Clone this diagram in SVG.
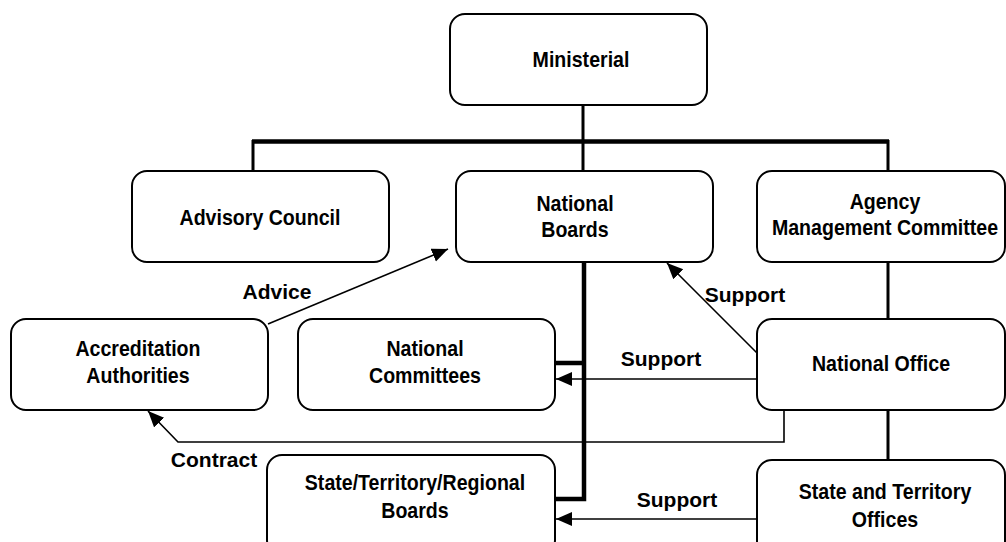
<svg xmlns="http://www.w3.org/2000/svg" width="1006" height="542" viewBox="0 0 1006 542">
<defs>
<style>
.box{fill:#fff;stroke:#000;stroke-width:2}
.t{font-family:"Liberation Sans",Arial,sans-serif;font-weight:bold;font-size:22px;fill:#000;text-anchor:middle}
.lbl{font-family:"Liberation Sans",Arial,sans-serif;font-weight:bold;font-size:21px;fill:#000;text-anchor:middle}
.tree{fill:none;stroke:#000;stroke-width:3}
.thick{fill:none;stroke:#000;stroke-width:4.5}
.arr{fill:none;stroke:#000;stroke-width:1.6;marker-end:url(#ah)}
</style>
<marker id="ah" markerUnits="userSpaceOnUse" markerWidth="18" markerHeight="16" refX="16" refY="7" orient="auto">
<path d="M0,0 L16,7 L0,14 Z" fill="#000"/>
</marker>
</defs>
<rect width="1006" height="542" fill="#fff"/>
<g id="connectors">
<path class="tree" d="M583,105 V170"/>
<path class="thick" d="M252,141.5 H889"/>
<path class="tree" d="M253,140 V171 M888,140 V171"/>
<path class="thick" d="M584,262 V499 H555 M584,363 H555"/>
<path class="tree" d="M888,262 V319 M888,410 V461"/>
<path class="arr" d="M268,324 L448,249"/>
<path class="arr" d="M757,353 L667,263"/>
<path class="arr" d="M757,379 H556"/>
<path class="arr" d="M784,410 V442 H178 L148,411"/>
<path class="arr" d="M757,519 H556"/>
</g>
<g id="n-ministerial"><rect class="box" x="450" y="14" width="257" height="91" rx="15"/><text class="t" transform="translate(581 67) scale(0.89 1)">Ministerial</text></g>
<g id="n-advisory"><rect class="box" x="132" y="171" width="257" height="91" rx="15"/><text class="t" transform="translate(260 225) scale(0.89 1)">Advisory Council</text></g>
<g id="n-boards"><rect class="box" x="456" y="171" width="257" height="91" rx="15"/><text class="t" transform="translate(575 211) scale(0.89 1)"><tspan x="0" y="0">National</tspan><tspan x="0" y="26">Boards</tspan></text></g>
<g id="n-agency"><rect class="box" x="757" y="171" width="248" height="91" rx="15"/><text class="t" transform="translate(885 209) scale(0.89 1)"><tspan x="0" y="0">Agency</tspan><tspan x="0" y="26">Management Committee</tspan></text></g>
<g id="n-accreditation"><rect class="box" x="11" y="319" width="257" height="91" rx="15"/><text class="t" transform="translate(138 356) scale(0.89 1)"><tspan x="0" y="0">Accreditation</tspan><tspan x="0" y="27">Authorities</tspan></text></g>
<g id="n-committees"><rect class="box" x="298" y="319" width="257" height="91" rx="15"/><text class="t" transform="translate(425 356) scale(0.89 1)"><tspan x="0" y="0">National</tspan><tspan x="0" y="27">Committees</tspan></text></g>
<g id="n-office"><rect class="box" x="757" y="319" width="248" height="91" rx="15"/><text class="t" transform="translate(881 371) scale(0.89 1)">National Office</text></g>
<g id="n-stateboards"><rect class="box" x="267" y="455" width="288" height="100" rx="15"/><text class="t" transform="translate(415 490) scale(0.89 1)"><tspan x="0" y="0">State/Territory/Regional</tspan><tspan x="0" y="28">Boards</tspan></text></g>
<g id="n-stateoffices"><rect class="box" x="757" y="460" width="248" height="100" rx="15"/><text class="t" transform="translate(885 499) scale(0.89 1)"><tspan x="0" y="0">State and Territory</tspan><tspan x="0" y="28">Offices</tspan></text></g>
<g id="labels">
<text class="lbl" x="277" y="299">Advice</text>
<text class="lbl" x="745" y="302">Support</text>
<text class="lbl" x="661" y="366">Support</text>
<text class="lbl" x="214" y="467">Contract</text>
<text class="lbl" x="677" y="507">Support</text>
</g>
</svg>
